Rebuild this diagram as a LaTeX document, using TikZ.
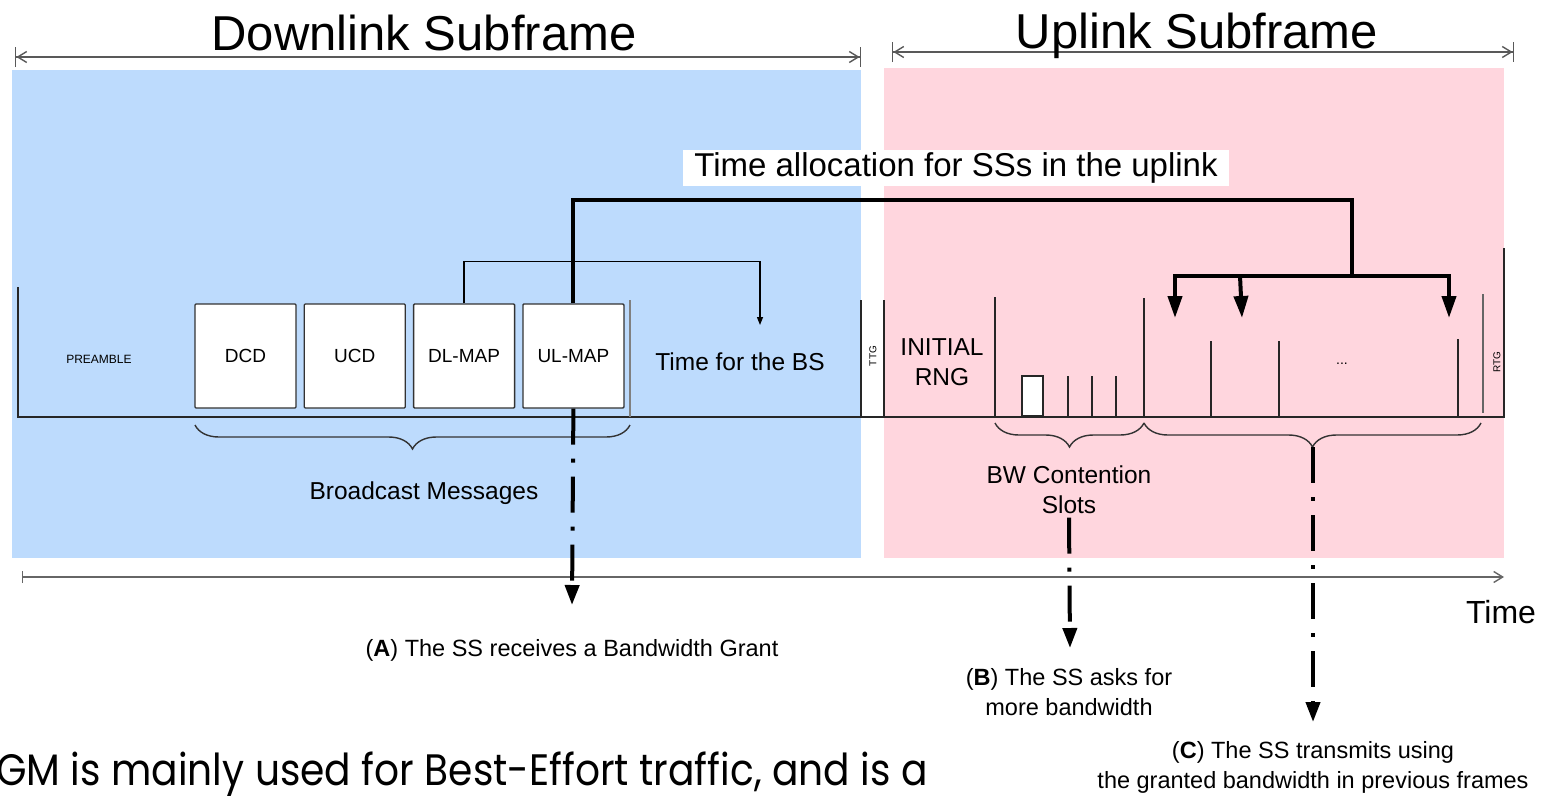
\documentclass[tikz,border=0pt]{standalone}
\usepackage{fontspec}
\setmainfont{Liberation Sans}
\newfontfamily\slidefont[FakeStretch=0.89]{Poppins}
\usepackage{tikz}
\usetikzlibrary{positioning}
\usetikzlibrary{arrows.meta}
\usetikzlibrary{decorations.pathreplacing}
\definecolor{dlblue}{RGB}{189,219,253}
\definecolor{ulpink}{RGB}{255,214,222}
\newcommand{\fsz}[2]{\fontsize{#1pt}{#2pt}\selectfont}

\begin{document}
\begin{tikzpicture}[x=1pt,y=-1pt,
    msgbox/.style={draw=black!80,fill=white,line width=1.3pt,rounded corners=1pt,minimum width=101pt,minimum height=104pt,inner sep=0pt,font=\fsz{19}{23}},
    frame/.style={line width=1.4pt,black!85},
    dimline/.style={line width=1.4pt,black!65,{Bar[width=20pt]Straight Barb[length=9pt,width=11pt]}-{Straight Barb[length=9pt,width=11pt]Bar[width=20pt]}},
    thickline/.style={line width=4pt},
    bigtip/.style={-{Triangle[width=14pt,length=22pt]}},
    grantline/.style={line width=4pt,dash pattern=on 36pt off 14pt on 4pt off 14pt,-{Triangle[width=14pt,length=20pt]}},
    curly/.style={line width=1.4pt,black!80,decorate,decoration={brace,mirror,amplitude=24pt}},
    lbl/.style={font=\fsz{24.5}{30},align=center}]
    \useasboundingbox (0,0) rectangle (1549,795);
    \clip (0,0) rectangle (1549,795);

    \fill[dlblue] (12,70) rectangle (861,558);
    \fill[ulpink] (884,68) rectangle (1504,558);

    \coordinate (dlstart) at (15,57);
    \coordinate (dlend) at (861,57);
    \coordinate (ulstart) at (892,52);
    \coordinate (ulend) at (1514,52);
    \draw[dimline] (dlstart) -- (dlend);
    \draw[dimline] (ulstart) -- (ulend);
    \node[anchor=base,font=\fsz{49}{55}] (dltitle) at (424,50) {Downlink Subframe};
    \node[anchor=base,font=\fsz{49}{55}] (ultitle) at (1197,48) {Uplink Subframe};

    \draw[frame] (18,287) -- (18,417) -- (1504,417) -- (1504,248);
    \draw[frame,black!50] (630,300) -- (630,417);
    \draw[frame,black!60] (1483,294) -- (1483,413);
    \foreach \x/\y in {861/300,884/300,995/297,1144/298,1211/341,1279/341,1458/339}
        \draw[frame] (\x,\y) -- (\x,417);
    \foreach \x in {1068,1092,1116}
        \draw[frame] (\x,376) -- (\x,417);
    \draw[frame,line width=2.5pt,fill=white] (1022,376) rectangle (1043,416);

    \node[font=\fsz{12}{14}] (preamble) at (99,359) {PREAMBLE};
    \node[msgbox] (dcd) at (245.5,356) {DCD};
    \node[msgbox,right=7pt of dcd] (ucd) {UCD};
    \node[msgbox,right=7pt of ucd] (dlmap) {DL-MAP};
    \node[msgbox,right=7pt of dlmap] (ulmap) {UL-MAP};
    \node[anchor=base,font=\fsz{24.5}{30}] (bstime) at (740,370) {Time for the BS};
    \node[rotate=90,font=\fsz{10}{12}] (ttg) at (873,356) {TTG};
    \node[rotate=90,font=\fsz{10}{12}] (rtg) at (1497,362) {RTG};
    \node[lbl] (rng) at (942,362) {INITIAL\\RNG};
    \node[font=\fsz{14}{16}] (dots) at (1342,364) {...};

    \coordinate (bsarrow) at (760,325);
    \draw[line width=1.3pt,-{Triangle[width=6pt,length=8pt]}] (dlmap.north) -- ++(0,-42) -| (bsarrow);

    \node[fill=white,font=\fsz{33}{38},inner xsep=11pt,inner ysep=3pt] (alloc) at (956,168) {Time allocation for SSs in the uplink};
    \coordinate (split) at (1352,276);
    \coordinate (midtop) at (1240,276);
    \coordinate (ss1) at (1175,318);
    \coordinate (ss2) at (1242,318);
    \coordinate (ss3) at (1449,318);
    \draw[thickline] (ulmap.north) -- ++(0,-103) -| (split);
    \draw[thickline,bigtip] (split) -| (ss1);
    \draw[thickline,bigtip] (split) -| (ss3);
    \draw[thickline,bigtip] (midtop) -- (ss2);

    \draw[curly] (195,425) -- (630,425);
    \draw[curly] (995,423) -- (1144,423);
    \draw[curly] (1144,423) -- (1481,423);
    \node[anchor=base,font=\fsz{24.5}{30}] (bcast) at (424,499) {Broadcast Messages};
    \node[lbl] (bwc) at (1069,490) {BW Contention\\Slots};

    \coordinate (t0) at (22,577);
    \coordinate (t1) at (1504,577);
    \draw[line width=1.4pt,black!60,{Bar[width=12pt]}-{Straight Barb[length=9pt,width=11pt]}] (t0) -- (t1);
    \node[anchor=base,font=\fsz{32}{36}] (timelbl) at (1501,623) {Time};

    \coordinate (grantA) at (572,605);
    \coordinate (askB) at (1070,648);
    \coordinate (tipC) at (1313,447);
    \coordinate (sendC) at (1313,722);
    \draw[grantline] (ulmap.south) -- (grantA);
    \draw[grantline] (bwc.south) -- (askB);
    \draw[grantline] (tipC) -- (sendC);

    \node[anchor=base,font=\fsz{23.5}{29}] (lblA) at (572,656) {(\textbf{A}) The SS receives a Bandwidth Grant};
    \node[lbl,font=\fsz{23.5}{30}] (lblB) at (1069,692) {(\textbf{B}) The SS asks for\\more bandwidth};
    \node[lbl,font=\fsz{23.5}{30}] (lblC) at (1313,767) {(\textbf{C}) The SS transmits using\\the granted bandwidth in previous frames};

    \node[anchor=base west,inner sep=0pt,font=\slidefont\fsz{44}{50}] (slide) at (-4,785) {GM is mainly used for Best-Effort traffic, and is a};
\end{tikzpicture}
\end{document}
